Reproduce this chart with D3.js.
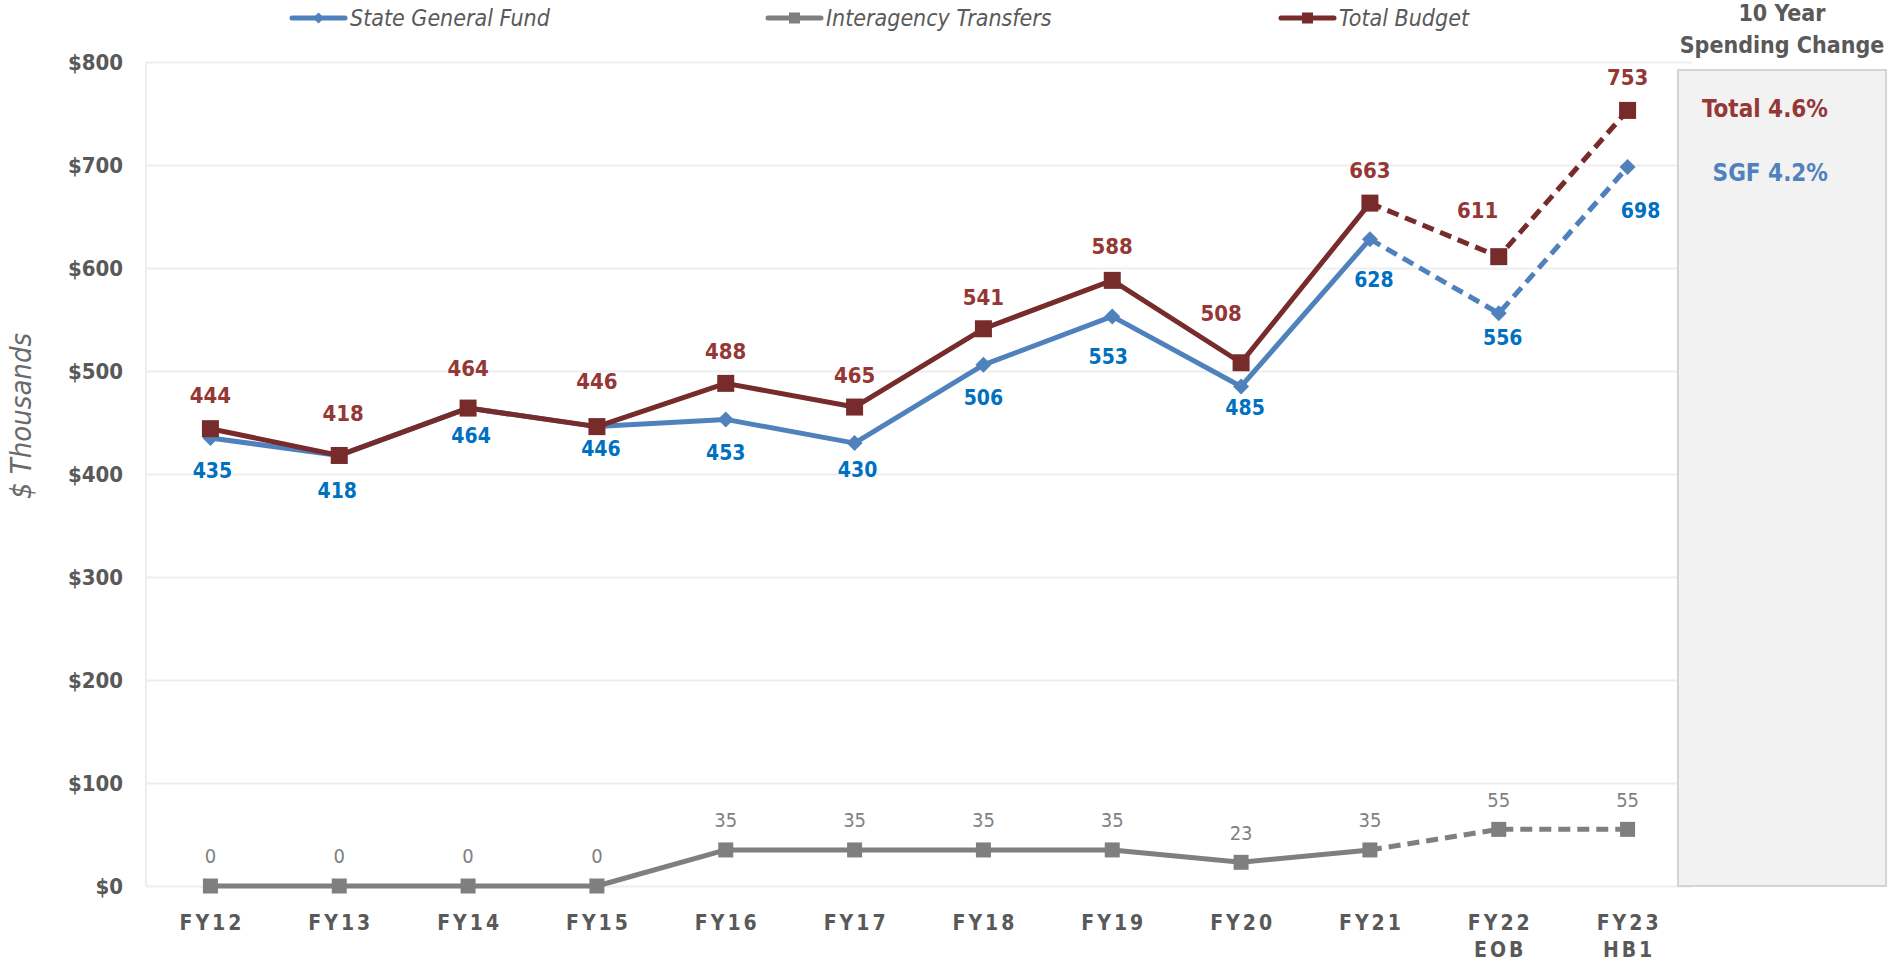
<!DOCTYPE html>
<html>
<head>
<meta charset="utf-8">
<script src="https://cdn.jsdelivr.net/npm/d3@7/dist/d3.min.js"></script>
<style>
  html, body { margin: 0; padding: 0; background: #ffffff; }
  svg { display: block; }
  text { font-family: "DejaVu Sans Condensed", "DejaVu Sans", sans-serif; }
</style>
</head>
<body>
<svg id="chart" width="1889" height="962"></svg>
<script>
// ---------------- DATA ----------------
const categories = ["FY12", "FY13", "FY14", "FY15", "FY16", "FY17", "FY18", "FY19", "FY20", "FY21", "FY22 EOB", "FY23 HB1"];
const stateGeneralFund = [435, 418, 464, 446, 453, 430, 506, 553, 485, 628, 556, 698];
const interagencyTransfers = [0, 0, 0, 0, 35, 35, 35, 35, 23, 35, 55, 55];
const totalBudget = [444, 418, 464, 446, 488, 465, 541, 588, 508, 663, 611, 753];
const yTicks = [0, 100, 200, 300, 400, 500, 600, 700, 800];
const seriesNames = ["State General Fund", "Interagency Transfers", "Total Budget"];
const projectedFromIndex = 9; // FY21 -> FY23 drawn dashed
const panelTitle = ["10 Year", "Spending Change"];
const panelTotal = "Total 4.6%";
const panelSGF = "SGF 4.2%";
const yAxisTitle = "$ Thousands";

// ---------------- LAYOUT / STYLE ----------------
const plot = { left: 146, right: 1692, top: 62, bottom: 886 };
const colors = {
  sgf: "#4f81bd", sgfLabel: "#0070c0",
  total: "#772b2b", totalLabel: "#953735",
  iat: "#7f7f7f", iatLabel: "#7f7f7f",
  axisText: "#595959", grid: "#eeeeee"
};
// label nudges (px) relative to each marker
const totalNudge = { dx: [0, 4, 0, 0, 0, 0, 0, 0, -20, 0, -21, 0], dy: [-34, -42, -40, -46, -32, -32, -32, -34, -50, -33, -47, -33] };
const sgfNudge = { dx: [2, -2, 3, 4, 0, 3, 0, -4, 4, 4, 4, 13], dy: [32, 35, 27, 22, 33, 26, 33, 40, 21, 40, 24, 43] };
const iatNudgeDy = -30;

const svg = d3.select("#chart");

const x = d3.scaleBand().domain(categories).range([plot.left, plot.right]);
const cx = c => x(c) + x.bandwidth() / 2;
const y = d3.scaleLinear().domain([0, 800]).range([plot.bottom, plot.top]);

// ---- Y axis with gridlines ----
const yAxis = svg.append("g")
  .attr("transform", `translate(${plot.left},0)`)
  .call(d3.axisLeft(y).tickValues(yTicks).tickFormat(d => "$" + d)
    .tickSize(-(plot.right - plot.left)).tickPadding(23));
yAxis.select(".domain").remove();
yAxis.selectAll(".tick line").attr("stroke", colors.grid).attr("stroke-width", 2);
yAxis.selectAll(".tick text")
  .attr("fill", colors.axisText).attr("font-size", 22).attr("font-weight", "bold")
  .style("font-family", '"DejaVu Sans Condensed", "DejaVu Sans", sans-serif');

// vertical axis line
svg.append("line")
  .attr("x1", plot.left).attr("x2", plot.left)
  .attr("y1", plot.top).attr("y2", plot.bottom)
  .attr("stroke", colors.grid).attr("stroke-width", 2);

// ---- X axis ----
const xAxis = svg.append("g")
  .attr("transform", `translate(0,${plot.bottom})`)
  .call(d3.axisBottom(x).tickSize(0).tickPadding(0));
xAxis.select(".domain").remove();
xAxis.selectAll(".tick text").each(function(d) {
  const t = d3.select(this);
  const parts = d.split(" ");
  t.text(null)
    .attr("y", 0).attr("dy", null)
    .attr("fill", colors.axisText).attr("font-size", 21).attr("font-weight", "bold")
    .attr("letter-spacing", 3)
    .style("font-family", '"DejaVu Sans Condensed", "DejaVu Sans", sans-serif');
  parts.forEach((p, i) => {
    t.append("tspan").attr("x", 1.5).attr("y", 44 + i * 27).text(p);
  });
});

// ---- Right panel ----
svg.append("rect")
  .attr("x", 1678).attr("y", 70).attr("width", 208).attr("height", plot.bottom - 70)
  .attr("fill", "#f2f2f2").attr("stroke", "#d4d4d4").attr("stroke-width", 2);
svg.selectAll("text.ptitle").data(panelTitle).enter().append("text")
  .attr("class", "ptitle")
  .attr("x", 1782).attr("y", (d, i) => 21 + i * 32)
  .attr("text-anchor", "middle").attr("font-size", 23).attr("font-weight", "bold")
  .attr("fill", colors.axisText).text(d => d);
svg.append("text").attr("x", 1828).attr("y", 117).attr("text-anchor", "end")
  .attr("font-size", 24).attr("font-weight", "bold").attr("fill", colors.totalLabel).text(panelTotal);
svg.append("text").attr("x", 1828).attr("y", 181).attr("text-anchor", "end")
  .attr("font-size", 24).attr("font-weight", "bold").attr("fill", colors.sgf).text(panelSGF);

// ---- Y axis title ----
svg.append("text")
  .attr("transform", "translate(31,416) rotate(-90)")
  .attr("text-anchor", "middle").attr("font-size", 29).attr("font-style", "italic")
  .attr("fill", "#6a6a6a").text(yAxisTitle);

// ---- Lines ----
const line = d3.line().x(d => cx(d.c)).y(d => y(d.v));
function drawSeries(values, color, width) {
  const pts = values.map((v, i) => ({ c: categories[i], v }));
  svg.append("path").datum(pts.slice(0, projectedFromIndex + 1))
    .attr("d", line).attr("fill", "none").attr("stroke", color)
    .attr("stroke-width", width).attr("stroke-linejoin", "round");
  svg.append("path").datum(pts.slice(projectedFromIndex))
    .attr("d", line).attr("fill", "none").attr("stroke", color)
    .attr("stroke-width", width).attr("stroke-dasharray", "12,7");
  return pts;
}
const iatPts = drawSeries(interagencyTransfers, colors.iat, 5);
const sgfPts = drawSeries(stateGeneralFund, colors.sgf, 5);
const totPts = drawSeries(totalBudget, colors.total, 5);

// markers
const diamond = d3.symbol(d3.symbolSquare, 128);
svg.selectAll("path.m-sgf").data(sgfPts).enter().append("path")
  .attr("class", "m-sgf").attr("d", diamond)
  .attr("transform", d => `translate(${cx(d.c)},${y(d.v)}) rotate(45)`)
  .attr("fill", colors.sgf);
svg.selectAll("rect.m-iat").data(iatPts).enter().append("rect")
  .attr("class", "m-iat")
  .attr("x", d => cx(d.c) - 7.5).attr("y", d => y(d.v) - 7.5)
  .attr("width", 15).attr("height", 15).attr("fill", colors.iat);
svg.selectAll("rect.m-tot").data(totPts).enter().append("rect")
  .attr("class", "m-tot")
  .attr("x", d => cx(d.c) - 8.5).attr("y", d => y(d.v) - 8.5)
  .attr("width", 17).attr("height", 17).attr("fill", colors.total);

// ---- Data labels ----
svg.selectAll("text.l-iat").data(iatPts).enter().append("text")
  .attr("class", "l-iat")
  .attr("x", d => cx(d.c)).attr("y", d => y(d.v) + iatNudgeDy)
  .attr("dy", "0.36em").attr("text-anchor", "middle")
  .attr("font-size", 20).attr("fill", colors.iatLabel).text(d => d.v);
svg.selectAll("text.l-sgf").data(sgfPts).enter().append("text")
  .attr("class", "l-sgf")
  .attr("x", (d, i) => cx(d.c) + sgfNudge.dx[i]).attr("y", (d, i) => y(d.v) + sgfNudge.dy[i])
  .attr("dy", "0.36em").attr("text-anchor", "middle")
  .attr("font-size", 21).attr("font-weight", "bold").attr("fill", colors.sgfLabel).text(d => d.v);
svg.selectAll("text.l-tot").data(totPts).enter().append("text")
  .attr("class", "l-tot")
  .attr("x", (d, i) => cx(d.c) + totalNudge.dx[i]).attr("y", (d, i) => y(d.v) + totalNudge.dy[i])
  .attr("dy", "0.36em").attr("text-anchor", "middle")
  .attr("font-size", 22).attr("font-weight", "bold").attr("fill", colors.totalLabel).text(d => d.v);

// ---- Legend ----
const legendItems = [
  { name: seriesNames[0], color: colors.sgf, marker: "diamond", x0: 292 },
  { name: seriesNames[1], color: colors.iat, marker: "square", x0: 768 },
  { name: seriesNames[2], color: colors.total, marker: "square", x0: 1281 }
];
const lg = svg.selectAll("g.legend").data(legendItems).enter().append("g")
  .attr("class", "legend").attr("transform", d => `translate(${d.x0},18)`);
lg.append("line").attr("x1", 0).attr("x2", 53).attr("y1", 0).attr("y2", 0)
  .attr("stroke", d => d.color).attr("stroke-width", 5).attr("stroke-linecap", "round");
lg.each(function(d) {
  const g = d3.select(this);
  if (d.marker === "diamond") {
    g.append("path").attr("d", d3.symbol(d3.symbolSquare, 60)).attr("transform", "translate(26.5,0) rotate(45)").attr("fill", d.color);
  } else {
    g.append("rect").attr("x", 21).attr("y", -5.5).attr("width", 11).attr("height", 11).attr("fill", d.color);
  }
});
lg.append("text").attr("x", 58).attr("y", 0).attr("dy", "0.36em")
  .attr("font-size", 23).attr("font-style", "italic").attr("fill", colors.axisText)
  .text(d => d.name);
</script>
</body>
</html>
